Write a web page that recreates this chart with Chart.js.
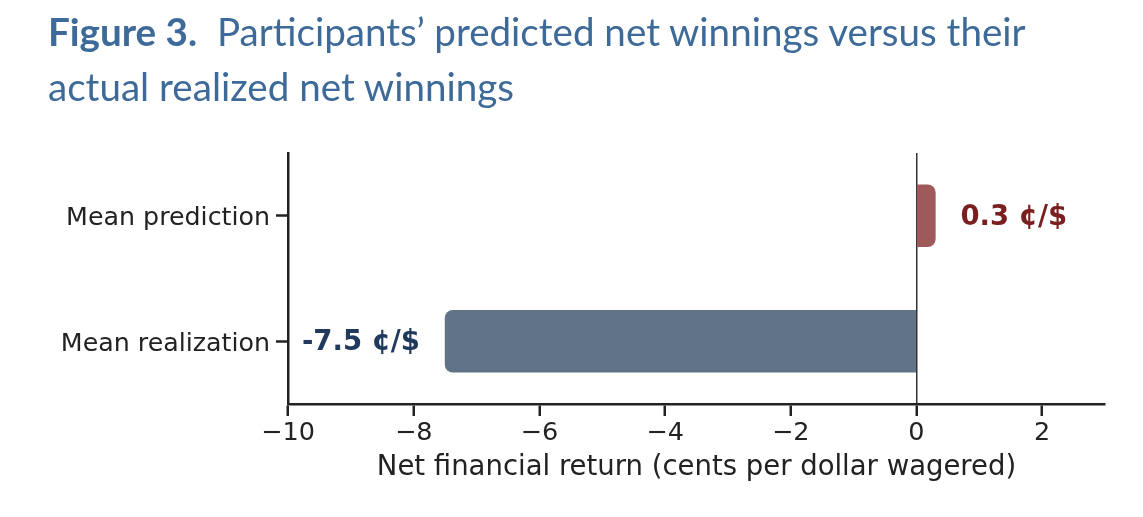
<!DOCTYPE html>
<html>
<head>
<meta charset="utf-8">
<script src="https://cdn.jsdelivr.net/npm/chart.js@4.4.1/dist/chart.umd.min.js"></script>
<style>
  body { margin: 0; background: #fff; }
  #wrap { position: relative; width: 1143px; height: 517px; }
  #title {
    position: absolute; left: 48px; top: 4px;
    font-family: Lato, sans-serif; font-size: 38.6px; line-height: 55px;
    color: #3d6a98; white-space: nowrap;
  }
  #title b { font-weight: 700; margin-right: 10px; }
  canvas { position: absolute; left: 0; top: 0; }
</style>
</head>
<body>
<div id="wrap">
  <canvas id="myChart" width="1143" height="517"></canvas>
  <div id="title"><b>Figure 3.</b> Participants’ predicted net winnings versus their<br>actual realized net winnings</div>
</div>
<script>
const categories = ['Mean prediction', 'Mean realization'];
const netReturn = [0.3, -7.5];
const barColors = ['#9e5a5a', '#607387'];
const labelColors = ['#7a1f1f', '#1f3a5c'];
const xTickValues = [-10, -8, -6, -4, -2, 0, 2];
const AXIS_DARK = '#222';


function formatTick(v) {
    return v < 0 ? '\u2212' + Math.abs(v) : String(v);
}


const valueLabels = {  // writes "0.3 ¢/$" beside each bar
    id: 'valueLabels',
    afterDatasetsDraw(chart) {
        const ctx = chart.ctx;
        const xScale = chart.scales.x;
        const bars = chart.getDatasetMeta(0).data;
        ctx.save();
        ctx.font = 'bold 27.5px "DejaVu Sans"';
        ctx.textBaseline = 'middle';
        bars.forEach((bar, i) => {
            let v = netReturn[i];
            let gap = v >= 0 ? 0.4 : -0.4;
            ctx.fillStyle = labelColors[i];
            ctx.textAlign = v >= 0 ? 'left' : 'right';
            ctx.fillText(v.toFixed(1) + ' ¢/$', xScale.getPixelForValue(v + gap), bar.y + 2);
        });
        ctx.restore();
    }
};


function drawChart() {
    Chart.defaults.font.family = '"DejaVu Sans"';
    Chart.defaults.color = AXIS_DARK;
    const ctx = document.getElementById('myChart').getContext('2d');
    new Chart(ctx, {
        type: 'bar',
        data: {
            labels: categories,
            datasets: [{
                data: netReturn,
                backgroundColor: barColors,
                borderRadius: 8,
                borderSkipped: 'start',
                barThickness: 62
            }]
        },
        options: {
            responsive: false,
            animation: false,
            indexAxis: 'y',
            layout: { padding: { top: 153, right: 38, bottom: 33, left: 0 } },
            plugins: { legend: { display: false }, tooltip: { enabled: false } },
            scales: {
                x: {
                    type: 'linear',
                    min: -10,
                    max: 3,
                    z: 1,
                    afterBuildTicks: (scale) => { scale.ticks = xTickValues.map(v => ({ value: v })); },
                    afterFit: (scale) => { scale.height = 80; },
                    border: { color: AXIS_DARK, width: 2.5 },
                    grid: {
                        color: (c) => (c.tick && c.tick.value === 0 ? '#333' : 'rgba(0,0,0,0)'),
                        lineWidth: 1.5,
                        tickColor: AXIS_DARK,
                        tickWidth: 2.5,
                        tickLength: 12
                    },
                    ticks: {
                        font: { size: 25.5 },
                        color: AXIS_DARK,
                        padding: 2,
                        maxRotation: 0,
                        callback: (v) => formatTick(v)
                    },
                    title: {
                        display: true,
                        text: 'Net financial return (cents per dollar wagered)',
                        font: { size: 27.5 },
                        color: AXIS_DARK,
                        padding: { top: 0, bottom: 0 }
                    }
                },
                y: {
                    afterFit: (scale) => { scale.width = 288; },
                    border: { color: AXIS_DARK, width: 2.5 },
                    grid: {
                        offset: false,
                        drawOnChartArea: false,
                        tickColor: AXIS_DARK,
                        tickWidth: 2.5,
                        tickLength: 12
                    },
                    ticks: { font: { size: 25.3 }, color: AXIS_DARK, padding: 6, labelOffset: 3 }
                }
            }
        },
        plugins: [valueLabels]
    });
}


drawChart();
</script>
</body>
</html>
